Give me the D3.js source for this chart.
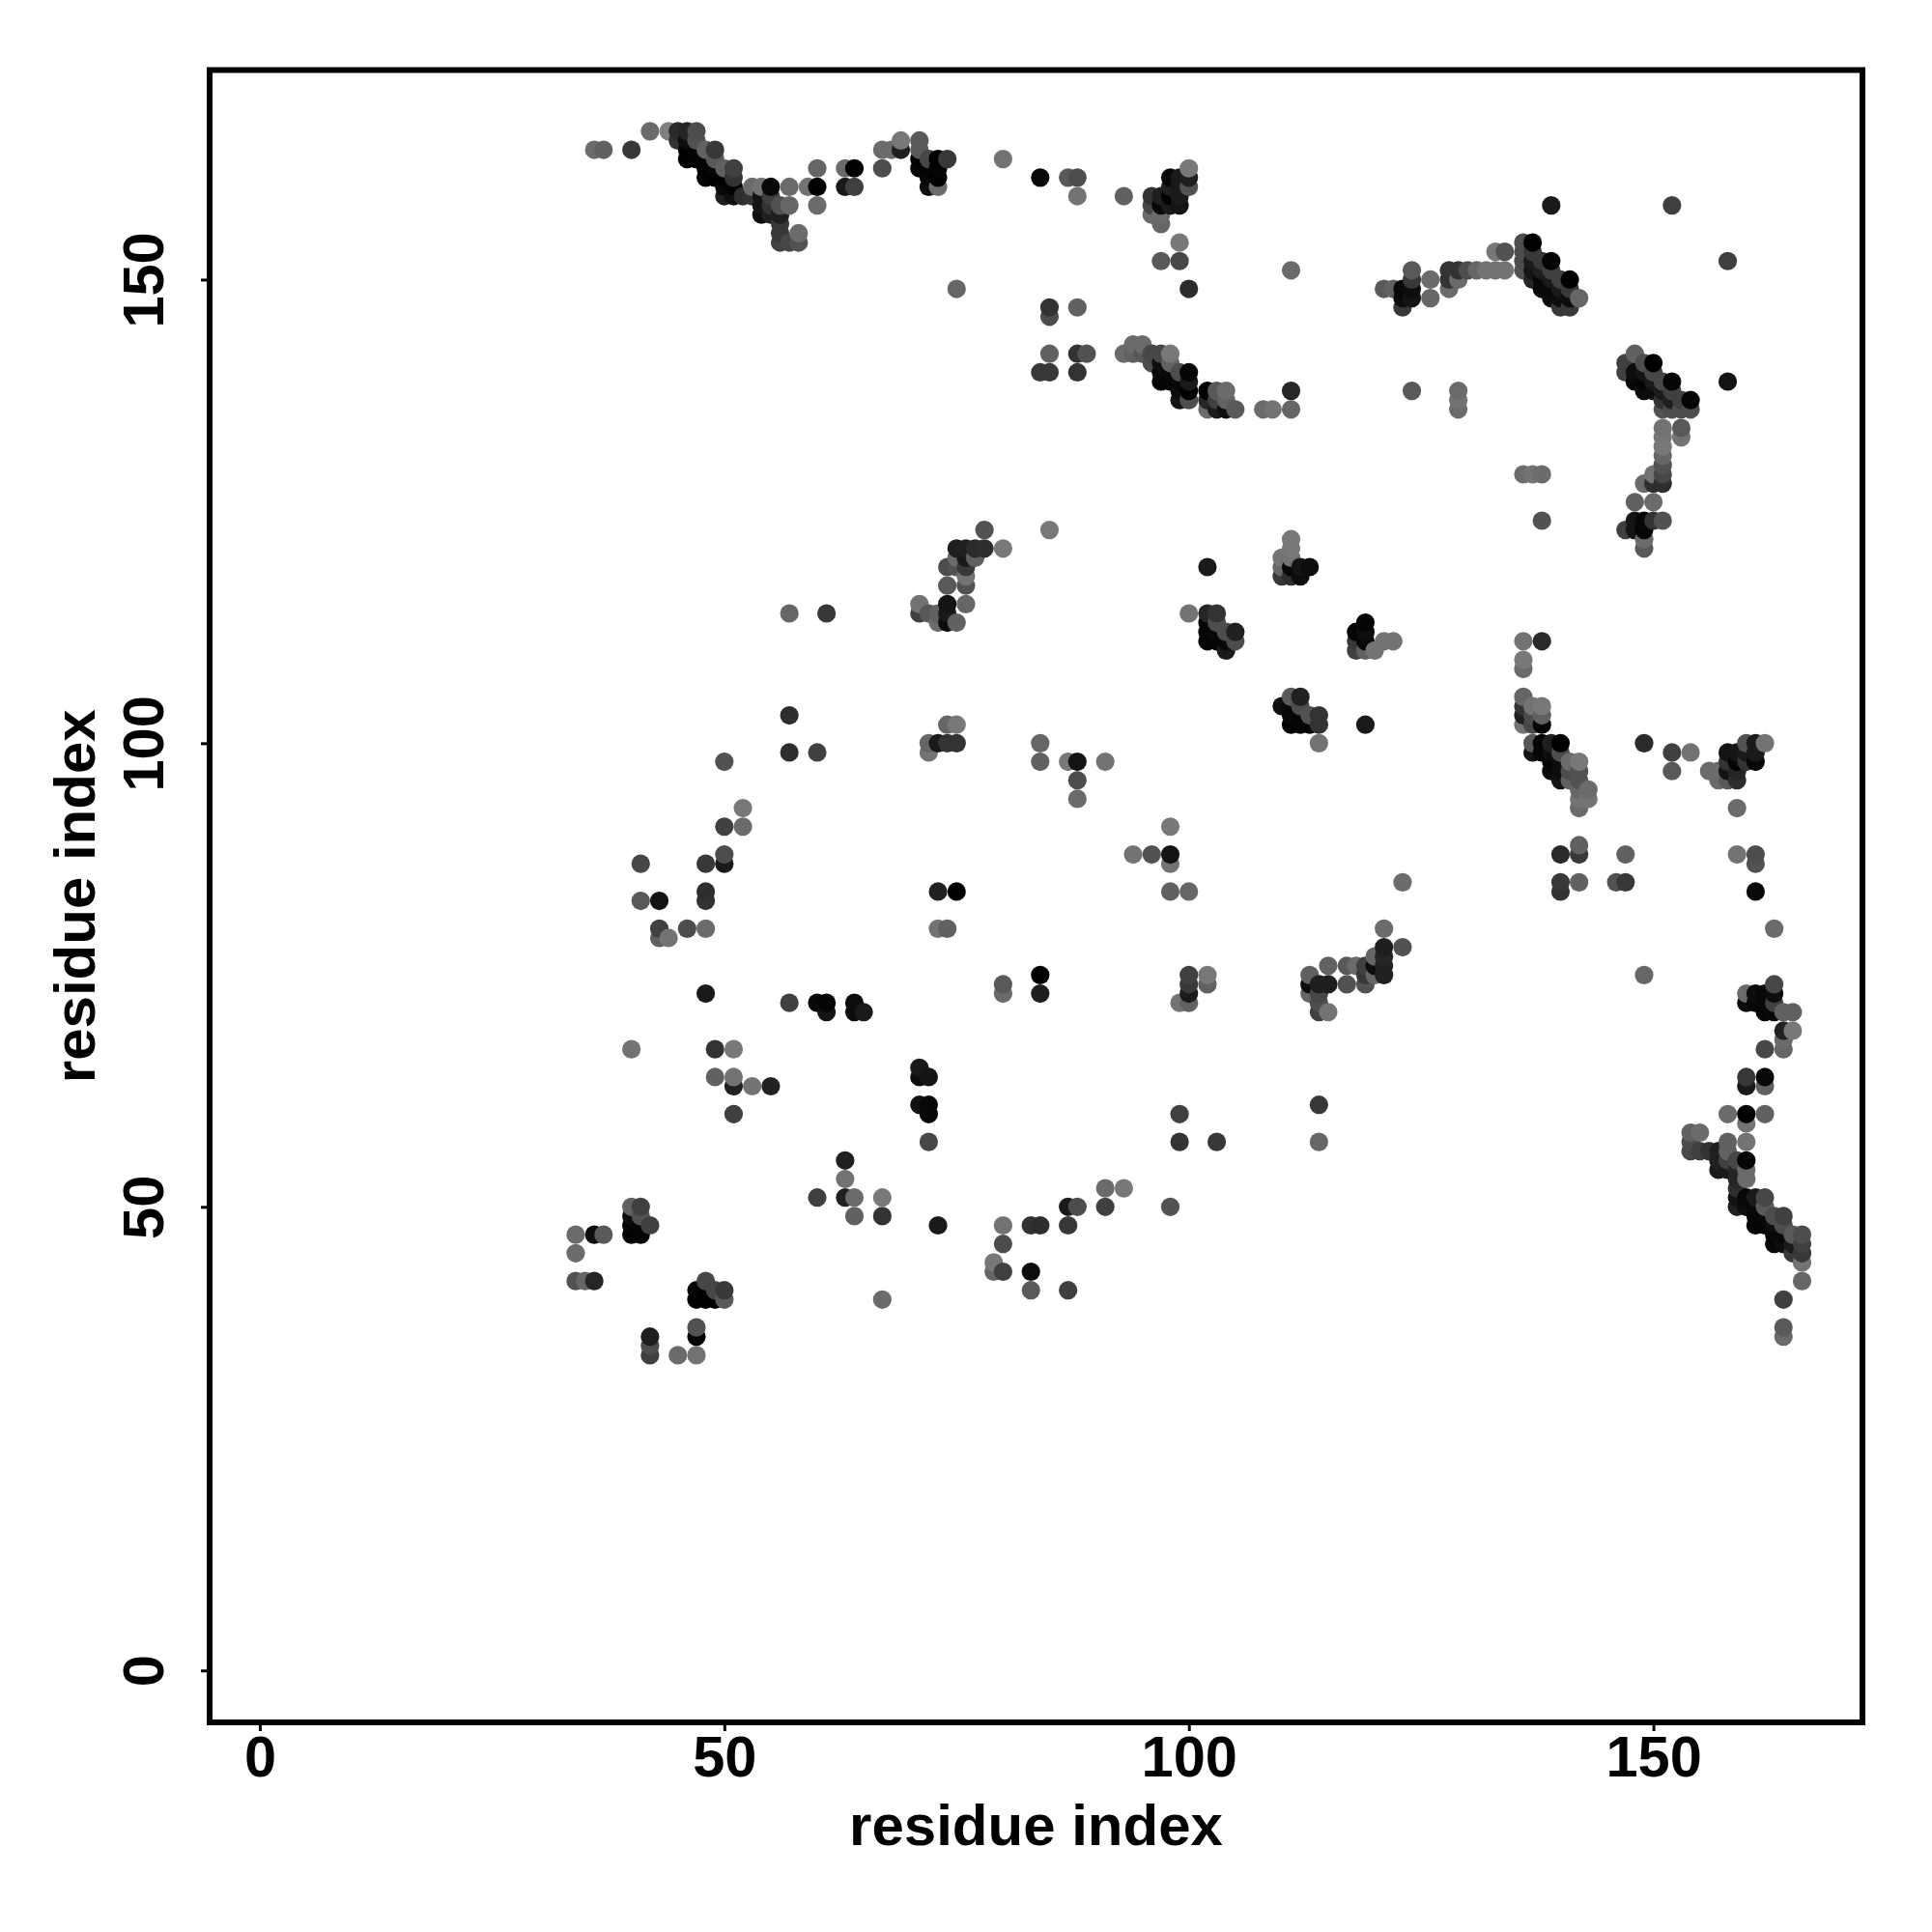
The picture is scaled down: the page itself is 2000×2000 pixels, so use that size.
<!DOCTYPE html>
<html><head><meta charset="utf-8">
<script src="https://cdn.jsdelivr.net/npm/d3@7/dist/d3.min.js"></script>
<style>html,body{margin:0;background:#fff}svg{display:block}text{font-family:"Liberation Sans",Arial,sans-serif;font-weight:700;fill:#000}</style>
</head><body><svg id="c" width="2000" height="2000"></svg>
<script>
const xTicks=[0,50,100,150], yTicks=[0,50,100,150], axisTitle="residue index";
// each entry: [residue x, residue y, grey level]
const topLeft=[[36,164,.42],[37,164,.38],[40,164,.22],[42,166,.42],[44,166,.5],[45,166,.16],[46,166,.14],[47,166,.3],[45,165,.2],[46,165,.05],[47,165,.32],[46,164,0],[47,164,.02],[48,164,.38],[49,164,.22],[46,163,0],[47,163,.01],[48,163,.02],[49,163,.35],[48,162,0],[49,162,.02],[50,162,.38],[51,162,.25],[48,161,.02],[49,161,0],[50,161,0],[51,161,.2],[50,160,.03],[51,160,.01],[53,160,.42],[54,160,.45],[55,160,.03],[57,160,.42],[59,160,.45],[60,160,0],[63,160,.1],[64,160,.25],[50,159,.12],[51,159,.06],[52,159,.18],[53,159,.2],[54,159,.08],[55,159,.25],[54,158,.08],[55,158,.2],[56,158,.32],[57,158,.4],[60,158,.42],[54,157,.05],[55,157,.12],[56,157,.12],[56,156,.22],[56,155,.22],[58,155,.42],[56,154,.25],[57,154,.28],[58,154,.32],[60,162,.4],[63,162,.42],[64,162,0],[67,162,.3],[67,164,.42],[68,164,.42],[69,164,.12],[69,165,.47],[71,165,.35],[71,164,.35],[71,163,0],[72,163,.28],[73,163,0],[74,163,.22],[80,163,.45],[71,162,.02],[72,162,.02],[73,162,.02],[72,161,.03],[73,161,0],[72,160,.05],[73,160,.42],[75,149,.4]];
const topMiddle=[[84,161,.03],[87,161,.35],[88,161,.3],[88,159,.45],[93,159,.38],[98,161,.03],[99,161,.1],[100,161,.12],[100,162,.47],[100,160,.32],[98,160,.12],[99,160,.1],[96,159,.2],[97,159,.12],[98,159,0],[99,159,.1],[96,158,.28],[97,158,.03],[98,158,.1],[99,158,.08],[96,157,.42],[97,157,.42],[97,156,.4],[99,154,.47],[97,152,.35],[99,152,.28],[111,151,.42],[100,149,.17],[85,147,.2],[85,146,.3],[88,147,.38],[85,142,.38],[88,142,.2],[89,142,.32],[84,140,.22],[85,140,.22],[88,140,.2],[93,142,.42],[94,142,.38],[95,142,.35],[96,142,.28],[97,142,.28],[98,142,.47],[94,143,.42],[95,143,.42],[96,141,.3],[97,141,.05],[98,141,.38],[97,140,.03],[98,140,.03],[99,140,.3],[100,140,.02],[97,139,.02],[98,139,.02],[99,139,.03],[100,139,.1],[99,138,.05],[100,138,0],[102,138,0],[103,138,.35],[104,138,.42],[111,138,.15],[99,137,.08],[100,137,.3],[102,137,.15],[103,137,.25],[104,137,.38],[102,136,.42],[103,136,.1],[104,136,.05],[105,136,.35],[108,136,.42],[109,136,.45],[111,136,.4]];
const topRight=[[121,149,.35],[122,149,.38],[123,149,.03],[124,149,.05],[124,151,.35],[124,150,.22],[123,148,.05],[124,148,.08],[123,147,.22],[126,150,.42],[126,148,.4],[128,151,.2],[129,151,.2],[130,151,.3],[131,151,.4],[132,151,.45],[133,151,.45],[134,151,.45],[128,150,.2],[129,150,.42],[128,149,.42],[133,153,.47],[134,153,.32],[136,154,.3],[137,154,0],[136,153,.3],[137,153,.22],[136,152,.3],[137,152,.1],[138,152,.22],[139,152,.02],[136,151,.32],[137,151,.08],[138,151,.12],[139,151,.25],[137,150,.15],[138,150,.03],[139,150,.1],[140,150,.25],[141,150,0],[138,149,.03],[139,149,.03],[140,149,.1],[141,149,.22],[139,148,.05],[140,148,.05],[141,148,.05],[142,148,.4],[140,147,.22],[141,147,.22],[139,158,.1],[152,158,.25],[158,152,.25],[158,139,.08],[124,138,.35],[129,138,.42],[129,137,.45],[129,136,.42],[148,142,.38],[147,141,.25],[149,141,.3],[150,141,0],[147,140,.25],[148,140,.05],[149,140,.08],[150,140,.28],[148,139,.03],[149,139,.02],[150,139,.1],[151,139,.28],[152,139,.02],[149,138,.05],[150,138,.05],[151,138,.1],[152,138,.25],[151,137,.2],[152,137,.12],[153,137,.25],[154,137,.02],[151,136,.32],[152,136,.3],[153,136,.3],[154,136,.3],[151,134,.45],[153,134,.35],[153,133,.45],[151,133,.47],[151,132,.47],[151,131,.4],[151,130,.32],[151,129,.28],[151,128,.18],[150,129,.45],[149,128,.42],[150,128,.18],[136,129,.42],[137,129,.45],[138,129,.42],[138,124,.32],[148,126,.38],[150,126,.42],[148,124,.08],[149,124,.03],[150,124,.2],[151,124,.32],[147,123,.25],[148,123,.08],[149,123,.02],[149,122,.42],[149,121,.35]];
const midLeft=[[57,114,.4],[61,114,.22],[57,103,.18],[57,99,.18],[60,99,.25],[78,123,.32],[85,123,.47],[80,121,.47],[75,121,.12],[76,121,.13],[77,121,.17],[78,121,.18],[75,120,.42],[76,120,.1],[77,120,.38],[74,119,.3],[75,119,.32],[76,119,.22],[76,118,.45],[74,117,.35],[76,117,.32],[71,115,.45],[74,115,.08],[76,115,.4],[71,114,.25],[72,114,.35],[73,114,.38],[74,114,.1],[73,113,.42],[74,113,.05],[75,113,.38],[102,119,.1],[100,114,.45],[102,114,.15],[103,114,.2],[102,113,.02],[103,113,.3],[102,112,.02],[103,112,.03],[104,112,.3],[105,112,.13],[102,111,.02],[103,111,.02],[104,111,.03],[105,111,.3],[104,110,.1],[74,102,.4],[75,102,.47],[72,100,.4],[73,100,.1],[74,100,.2],[75,100,.2],[72,99,.45],[84,100,.4],[84,98,.38],[87,98,.47],[88,98,.08],[91,98,.45],[88,96,.3],[88,94,.42]];
const midRight=[[111,122,.47],[111,121,.47],[110,120,.45],[111,120,.45],[110,119,.4],[111,119,.03],[112,119,.08],[113,119,.05],[110,118,.22],[111,118,.18],[112,118,.05],[119,113,.02],[118,112,.02],[119,112,.05],[118,111,.22],[119,111,.03],[121,111,.45],[122,111,.45],[118,110,.25],[119,110,.38],[120,110,.45],[111,105,.35],[112,105,.13],[110,104,.05],[111,104,.03],[112,104,.3],[111,103,.03],[112,103,.02],[113,103,.32],[114,103,.2],[111,102,0],[112,102,.02],[113,102,.02],[114,102,.2],[114,100,.45],[119,102,.1],[136,111,.45],[138,111,.17],[136,109,.47],[136,108,.42],[136,105,.4],[137,104,.45],[138,104,.47],[136,104,.2],[136,103,.12],[137,103,.3],[138,103,.38],[136,102,.45],[137,102,.28],[138,102,.02],[137,100,.35],[138,100,.02],[139,100,.12],[140,100,0],[137,99,.08],[138,99,.02],[139,99,.05],[140,99,.3],[141,98,.42],[142,98,.47],[139,98,.02],[140,98,.05],[139,97,.03],[140,97,.05],[141,97,.3],[142,97,.32],[140,96,.08],[141,96,.38],[142,96,.32],[142,95,.4],[143,95,.42],[142,94,.45],[143,94,.45],[142,93,.42],[142,89,.38],[140,88,.17],[142,88,.22],[147,88,.38],[140,85,.22],[142,85,.38],[146,85,.32],[147,85,.22],[140,84,.2],[123,85,.42],[121,80,.42],[149,100,.17],[152,99,.25],[154,99,.45],[152,97,.35],[156,97,.42],[157,97,.42],[160,100,.32],[161,100,.1],[162,100,.45],[158,99,.08],[159,99,.08],[160,99,.1],[161,99,.1],[158,98,.2],[159,98,.02],[160,98,.2],[161,98,.03],[158,97,.08],[159,97,.15],[157,96,.42],[158,96,.35],[159,96,.18],[159,93,.42],[159,88,.45],[161,88,.3],[161,87,.32],[161,84,.03],[163,80,.42]];
const lowLeft=[[50,98,.32],[52,93,.47],[50,91,.25],[52,91,.42],[41,87,.28],[48,87,.22],[50,88,.3],[50,87,.1],[41,83,.35],[43,83,.08],[48,84,.18],[48,83,.2],[43,80,.25],[46,80,.3],[48,80,.42],[43,79,.38],[44,79,.45],[48,73,.1],[57,72,.25],[60,72,.03],[61,72,.02],[61,71,.08],[64,72,.05],[64,71,.05],[65,71,.1],[73,84,.13],[75,84,0],[73,80,.45],[74,80,.38],[80,74,.35],[80,73,.42],[84,75,0],[84,73,.12],[94,88,.45],[96,88,.32],[98,88,.08],[98,91,.47],[98,87,.45],[98,84,.38],[100,84,.4],[100,75,.25],[100,74,.22],[100,73,.1],[99,72,.45],[100,72,.38],[102,75,.47],[102,74,.38],[40,67,.45],[49,67,.2],[51,67,.47],[49,64,.38],[51,64,.45],[51,63,.13],[53,63,.45],[55,63,.13],[51,60,.25],[71,65,.1],[71,64,.05],[72,64,.08],[71,61,.07],[72,61,.03],[72,60,.03],[72,57,.28],[99,60,.25],[99,57,.2],[103,57,.22]];
const bottomLeft=[[63,55,.13],[63,53,.45],[60,51,.25],[63,51,.13],[64,51,.42],[67,51,.47],[64,49,.38],[67,49,.2],[73,48,.1],[80,48,.45],[83,48,.2],[84,48,.18],[87,48,.22],[87,50,.1],[88,50,.3],[91,50,.25],[91,52,.42],[93,52,.47],[98,50,.32],[80,46,.3],[40,50,.38],[41,50,.25],[40,49,.05],[41,49,.32],[42,48,.25],[40,48,.02],[41,48,.02],[40,47,0],[41,47,.02],[37,47,.35],[34,47,.42],[36,47,.05],[34,45,.42],[34,42,.32],[35,42,.4],[36,42,.15],[48,42,.28],[47,41,.02],[48,41,0],[49,41,.28],[50,41,.22],[47,40,0],[48,40,0],[49,40,0],[50,40,.35],[67,40,.42],[79,44,.47],[79,43,.4],[80,43,.25],[83,43,.05],[83,41,.35],[87,41,.25],[42,36,.12],[42,35,.3],[42,34,.25],[47,37,.32],[47,36,.02],[45,34,.42],[47,34,.45]];
const lowMiddle=[[121,78,.12],[123,78,.32],[121,77,.15],[121,76,.13],[121,75,.13],[120,77,.4],[120,76,.05],[120,75,.4],[119,76,.25],[119,75,.22],[119,74,.32],[115,76,.38],[117,76,.35],[118,76,.42],[113,75,.38],[113,74,.05],[113,73,.4],[114,74,.12],[115,74,.12],[117,74,.32],[114,73,.28],[114,72,.3],[114,71,.25],[115,71,.45],[114,61,.22],[114,57,.4],[149,75,.4]];
const lowRight=[[163,74,.28],[160,73,.42],[161,73,.05],[162,73,.03],[163,73,.05],[160,72,.05],[161,72,.03],[162,72,.03],[163,72,.25],[162,71,.02],[163,71,.03],[164,71,.38],[165,71,.38],[164,69,.13],[165,69,.47],[164,68,.42],[164,67,.4],[162,67,.28],[160,64,.22],[160,63,.1],[162,64,.03],[162,63,.38],[158,60,.42],[160,60,0],[162,60,.38],[160,59,.45],[160,57,.45],[158,57,.38],[154,58,.38],[155,58,.42],[154,57,.3],[154,56,.28],[155,56,.25],[156,56,.2],[157,56,.12],[158,56,.38],[157,55,.13],[158,55,.25],[159,55,.28],[160,55,.02],[157,54,.1],[158,54,.1],[159,54,.15],[160,54,.42],[159,53,.15],[160,53,.42],[159,52,.18],[159,51,.08],[160,51,.03],[161,51,.1],[162,51,.28],[159,50,.12],[160,50,.05],[161,50,.03],[162,50,.35],[161,49,.02],[162,49,.03],[163,49,.3],[164,49,.25],[161,48,.02],[162,48,.02],[163,48,.05],[164,48,.3],[163,47,.03],[164,47,.03],[165,47,.35],[166,47,.3],[163,46,.03],[164,46,.05],[165,46,.1],[166,46,.25],[165,45,.22],[166,45,.22],[166,44,.45],[166,42,.4],[164,40,.25],[164,37,.35],[164,36,.42]];

const contacts=[...topLeft,...topMiddle,...topRight,...midLeft,...midRight,...lowLeft,...bottomLeft,...lowMiddle,...lowRight]
  .sort((a,b)=>d3.ascending(a[0],b[0])||d3.ascending(a[1],b[1]));

const L=217,R=1928,T=72.5,B=1783;
const x=d3.scaleLinear().domain([-5.4,172.5]).range([L,R]);
const y=d3.scaleLinear().domain([-5.6,172.6]).range([B,T]);
const svg=d3.select("#c");

svg.append("g").selectAll("circle").data(contacts).join("circle")
  .attr("cx",d=>x(d[0])).attr("cy",d=>y(d[1])).attr("r",9.6)
  .attr("fill",d=>{const v=Math.round(d[2]*255);return d3.rgb(v,v,v).formatHex();});

svg.append("rect").attr("x",L).attr("y",T).attr("width",R-L).attr("height",B-T)
  .attr("fill","none").attr("stroke","#000").attr("stroke-width",6);

const ax=svg.append("g").attr("transform",`translate(0,${B})`)
  .call(d3.axisBottom(x).tickValues(xTicks).tickSize(9).tickPadding(12));
const ay=svg.append("g").attr("transform",`translate(${L},0)`)
  .call(d3.axisLeft(y).tickValues(yTicks).tickSize(9));
[ax,ay].forEach(g=>{g.select(".domain").remove();g.selectAll("line").attr("stroke","#000").attr("stroke-width",3);});
ax.selectAll("text").attr("dy",null).attr("y",56).attr("font-size",59.5).style("font-family",'"Liberation Sans",Arial,sans-serif').style("font-weight",700);
ay.selectAll("text").attr("x",null).attr("dy",null)
  .attr("transform",`translate(-48,0) rotate(-90)`)
  .attr("text-anchor","middle").attr("font-size",59.5).attr("x",0).attr("y",0)
  .style("font-family",'"Liberation Sans",Arial,sans-serif').style("font-weight",700);

svg.append("text").attr("x",(L+R)/2).attr("y",1910).attr("text-anchor","middle").attr("font-size",60).text(axisTitle);
svg.append("text").attr("transform",`translate(98,${(T+B)/2}) rotate(-90)`).attr("text-anchor","middle").attr("font-size",60).text(axisTitle);
</script></body></html>
